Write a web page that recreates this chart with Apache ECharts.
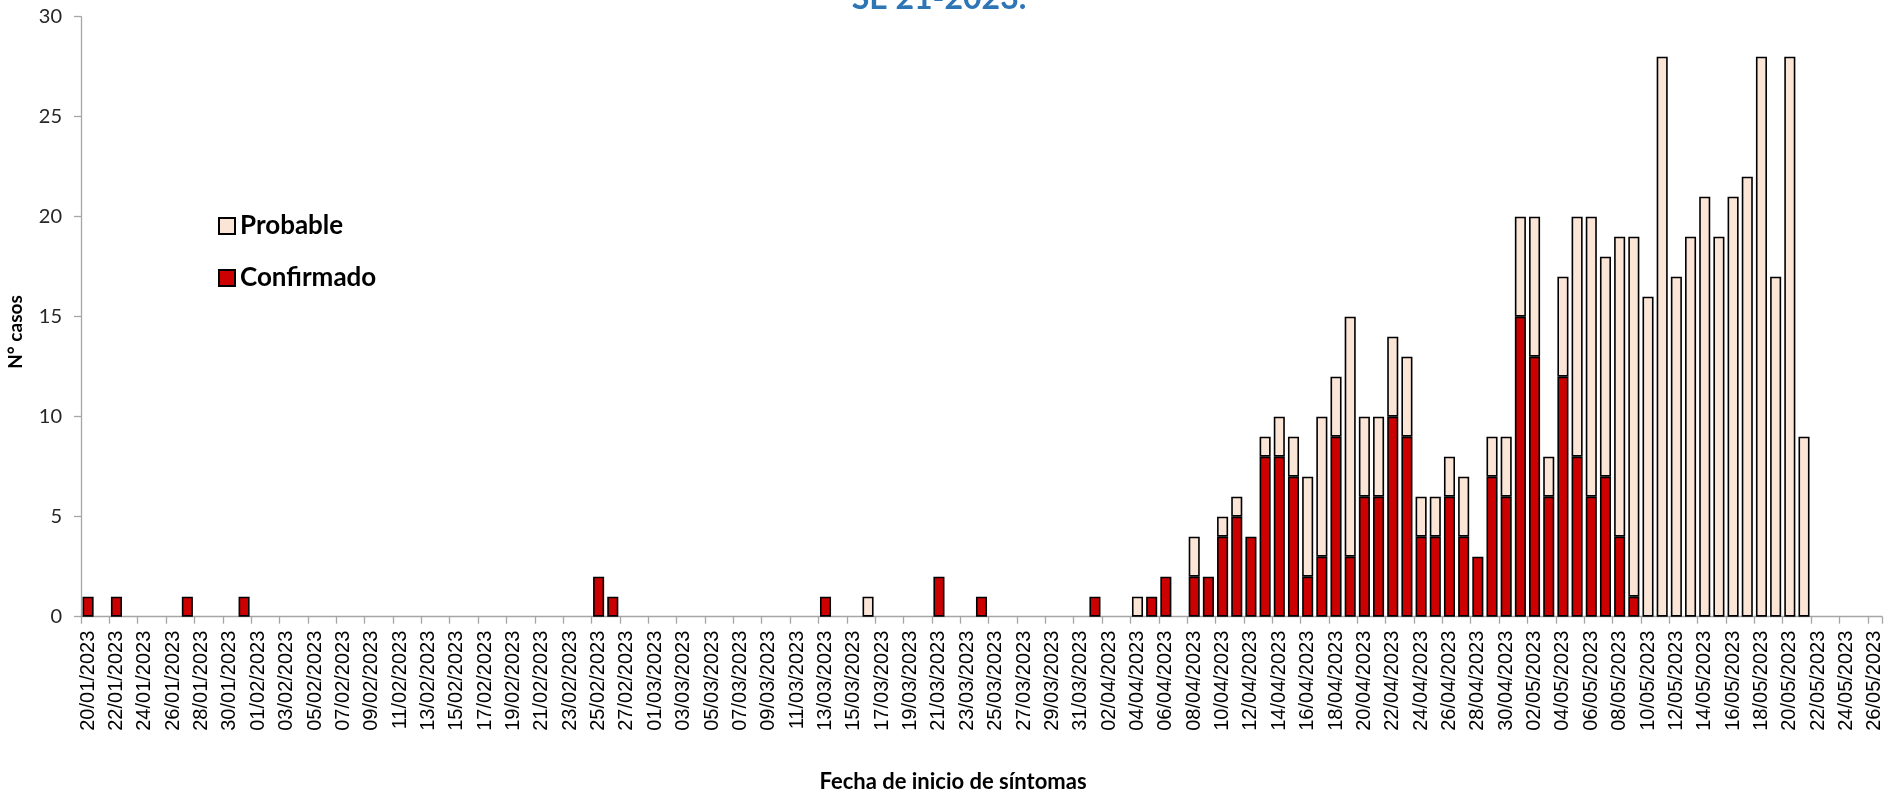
<!DOCTYPE html>
<html>
<head>
<meta charset="utf-8">
<script src="https://cdn.jsdelivr.net/npm/echarts@6/dist/echarts.min.js"></script>
<style>
html,body{margin:0;padding:0;background:#fff;}
#chart{width:1885px;height:791px;}
</style>
</head>
<body>
<div id="chart"></div>
<script>
var categories = [
"20/01/2023","21/01/2023","22/01/2023","23/01/2023","24/01/2023","25/01/2023","26/01/2023","27/01/2023","28/01/2023","29/01/2023","30/01/2023","31/01/2023",
"01/02/2023","02/02/2023","03/02/2023","04/02/2023","05/02/2023","06/02/2023","07/02/2023","08/02/2023","09/02/2023","10/02/2023","11/02/2023","12/02/2023","13/02/2023","14/02/2023","15/02/2023","16/02/2023","17/02/2023","18/02/2023","19/02/2023","20/02/2023","21/02/2023","22/02/2023","23/02/2023","24/02/2023","25/02/2023","26/02/2023","27/02/2023","28/02/2023",
"01/03/2023","02/03/2023","03/03/2023","04/03/2023","05/03/2023","06/03/2023","07/03/2023","08/03/2023","09/03/2023","10/03/2023","11/03/2023","12/03/2023","13/03/2023","14/03/2023","15/03/2023","16/03/2023","17/03/2023","18/03/2023","19/03/2023","20/03/2023","21/03/2023","22/03/2023","23/03/2023","24/03/2023","25/03/2023","26/03/2023","27/03/2023","28/03/2023","29/03/2023","30/03/2023","31/03/2023",
"01/04/2023","02/04/2023","03/04/2023","04/04/2023","05/04/2023","06/04/2023","07/04/2023","08/04/2023","09/04/2023","10/04/2023","11/04/2023","12/04/2023","13/04/2023","14/04/2023","15/04/2023","16/04/2023","17/04/2023","18/04/2023","19/04/2023","20/04/2023","21/04/2023","22/04/2023","23/04/2023","24/04/2023","25/04/2023","26/04/2023","27/04/2023","28/04/2023","29/04/2023","30/04/2023",
"01/05/2023","02/05/2023","03/05/2023","04/05/2023","05/05/2023","06/05/2023","07/05/2023","08/05/2023","09/05/2023","10/05/2023","11/05/2023","12/05/2023","13/05/2023","14/05/2023","15/05/2023","16/05/2023","17/05/2023","18/05/2023","19/05/2023","20/05/2023","21/05/2023","22/05/2023","23/05/2023","24/05/2023","25/05/2023","26/05/2023"
];

// Confirmado (bottom of stack)
var confirmado = [
1,0,1,0,0,0,0,1,0,0,0,1,
0,0,0,0,0,0,0,0,0,0,0,0,0,0,0,0,0,0,0,0,0,0,0,0,2,1,0,0,
0,0,0,0,0,0,0,0,0,0,0,0,1,0,0,0,0,0,0,0,2,0,0,1,0,0,0,0,0,0,0,
1,0,0,0,1,2,0,2,2,4,5,4,8,8,7,2,3,9,3,6,6,10,9,4,4,6,4,3,7,6,
15,13,6,12,8,6,7,4,1,0,0,0,0,0,0,0,0,0,0,0,0,0,0,0,0,0
];

// Probable (top of stack)
var probable = [
0,0,0,0,0,0,0,0,0,0,0,0,
0,0,0,0,0,0,0,0,0,0,0,0,0,0,0,0,0,0,0,0,0,0,0,0,0,0,0,0,
0,0,0,0,0,0,0,0,0,0,0,0,0,0,0,1,0,0,0,0,0,0,0,0,0,0,0,0,0,0,0,
0,0,0,1,0,0,0,2,0,1,1,0,1,2,2,5,7,3,12,4,4,4,4,2,2,2,3,0,2,3,
5,7,2,5,12,14,11,15,18,16,28,17,19,21,19,21,22,28,17,28,9,0,0,0,0,0
];

var yTicks = { min: 0, max: 30, interval: 5 };

var titleText = "SE 21-2023.";
var xTitle = "Fecha de inicio de síntomas";
var yTitle = "N° casos";

function clean(arr){ return arr.map(function(v){ return v === 0 ? '-' : v; }); }

var chart = echarts.init(document.getElementById('chart'), null, {renderer:'canvas'});
var axisGray = '#A6A6A6';
chart.setOption({
  animation: false,
  backgroundColor: '#ffffff',
  grid: { left: 81, right: 3, top: 16.7, bottom: 174.3, containLabel: false },
  legend: {
    orient: 'vertical',
    left: 218, top: 213,
    padding: 0,
    icon: 'rect',
    itemWidth: 16, itemHeight: 16, itemGap: 26,
    data: ['Probable', 'Confirmado'],
    textStyle: { fontFamily: 'Lato', fontWeight: 'bold', fontSize: 26, color: '#000' }
  },
  xAxis: {
    type: 'category',
    data: categories,
    boundaryGap: true,
    axisLine: { show: true, lineStyle: { color: axisGray, width: 1.3 } },
    axisTick: { show: true, interval: 1, length: 7, inside: false, lineStyle: { color: axisGray, width: 1.3 } },
    axisLabel: { interval: 1, rotate: 90, margin: 14, fontFamily: 'Liberation Sans', fontSize: 20, color: '#000' },
    splitLine: { show: false }
  },
  yAxis: {
    type: 'value',
    min: yTicks.min, max: yTicks.max, interval: yTicks.interval,
    axisLine: { show: true, lineStyle: { color: axisGray, width: 1.3 } },
    axisTick: { show: true, length: 7, inside: false, lineStyle: { color: axisGray, width: 1.3 } },
    axisLabel: { margin: 19, fontFamily: 'Lato', fontSize: 20, color: '#262626' },
    splitLine: { show: false }
  },
  series: [
    {
      name: 'Confirmado', type: 'bar', stack: 'total', barWidth: '78%',
      data: clean(confirmado),
      itemStyle: { color: '#CC0000', borderColor: '#000', borderWidth: 1.6 }
    },
    {
      name: 'Probable', type: 'bar', stack: 'total', barWidth: '78%',
      data: clean(probable),
      itemStyle: { color: '#FBE5D6', borderColor: '#000', borderWidth: 1.6 }
    }
  ],
  graphic: [
    { type: 'text', x: 939, y: -1, silent: true,
      style: { text: titleText, fill: '#2E75B6', font: 'bold 32px Lato', textAlign: 'center', verticalAlign: 'middle' } },
    { type: 'text', x: 953, y: 782, silent: true,
      style: { text: xTitle, fill: '#000', font: 'bold 22px Lato', textAlign: 'center', verticalAlign: 'middle' } },
    { type: 'text', x: 16, y: 332, rotation: Math.PI / 2, silent: true,
      style: { text: yTitle, fill: '#000', font: 'bold 19px Lato', textAlign: 'center', verticalAlign: 'middle' } }
  ]
});
</script>
</body>
</html>
